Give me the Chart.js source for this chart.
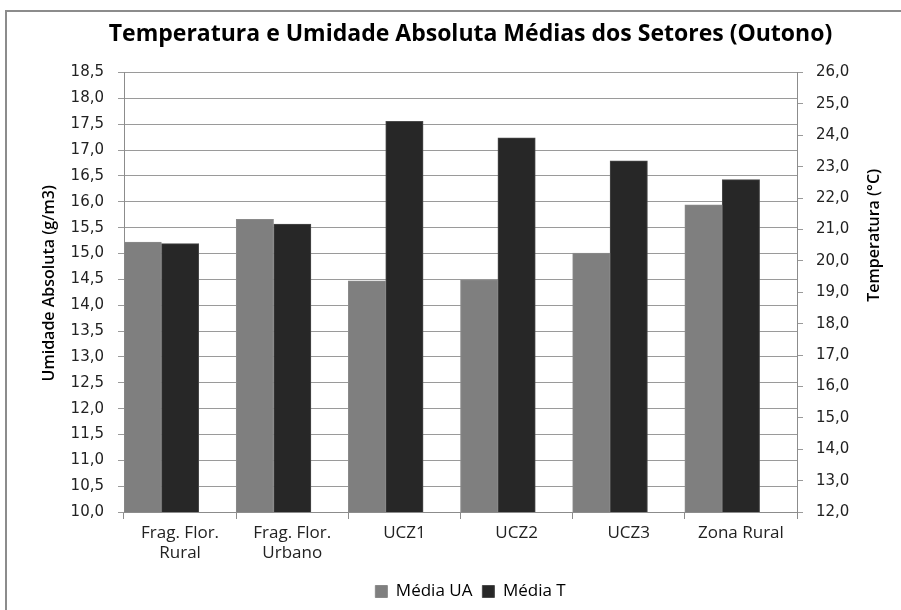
<!DOCTYPE html>
<html>
<head>
<meta charset="utf-8">
<script src="https://cdn.jsdelivr.net/npm/chart.js@4"></script>
<style>
    html, body { margin: 0; padding: 0; background: #fff; }
    #wrap { position: relative; width: 901px; height: 610px; overflow: hidden; }
    #frame { position: absolute; left: 5px; top: 10px; width: 910px; height: 620px;
             border-left: 2px solid #8c8c8c; border-top: 2px solid #8c8c8c; }
    #chart { position: absolute; left: 0; top: 0; }
</style>
</head>
<body>
<div id="wrap">
    <div id="frame"></div>
    <canvas id="chart" width="901" height="610"></canvas>
</div>
<script>
// categorias e valores
const categories = [['Frag. Flor.', 'Rural'], ['Frag. Flor.', 'Urbano'], 'UCZ1', 'UCZ2', 'UCZ3', 'Zona Rural'];
const mediaUA = [15.22, 15.66, 14.47, 14.49, 15.01, 15.94];
const mediaT = [20.55, 21.17, 24.45, 23.92, 23.19, 22.59];
// espaco vazio a direita de cada par (como no Excel)
const spacer = [null, null, null, null, null, null];

const fmt = (v) => Number(v).toFixed(1).replace('.', ',');
const tickFont = { family: 'DejaVu Sans', size: 15 };

// titulos dos eixos, os dois lidos de baixo para cima como no Excel
const axisTitles = {
    id: 'axisTitles',
    afterDraw(chart) {
        const c = chart.ctx;
        const area = chart.chartArea;
        c.save();
        c.fillStyle = '#000';
        c.font = '600 16px "Open Sans"';
        c.textAlign = 'center';
        c.textBaseline = 'middle';
        c.translate(area.left - 75, (area.top + area.bottom) / 2 - 9);
        c.rotate(-Math.PI / 2);
        c.fillText('Umidade Absoluta (g/m3)', 0, 0);
        c.restore();

        c.save();
        c.fillStyle = '#000';
        c.font = '600 16px "Open Sans"';
        c.textAlign = 'center';
        c.textBaseline = 'middle';
        c.translate(area.right + 77, (area.top + area.bottom) / 2 - 57);
        c.rotate(-Math.PI / 2);
        c.fillText('Temperatura (°C)', 0, 0);
        c.restore();
    }
};

const ctx = document.getElementById('chart');
new Chart(ctx, {
    type: 'bar',
    data: {
        labels: categories,
        datasets: [{
            label: 'Média UA',
            data: mediaUA,
            backgroundColor: '#7f7f7f',
            borderColor: '#8a8a8a',
            borderWidth: 1,
            yAxisID: 'y'
        }, {
            label: 'Média T',
            data: mediaT,
            backgroundColor: '#272727',
            borderColor: '#4a4a4a',
            borderWidth: 1,
            yAxisID: 'y1'
        }, {
            label: '',
            data: spacer,
            backgroundColor: 'rgba(0,0,0,0)',
            yAxisID: 'y'
        }]
    },
    options: {
        responsive: false,
        animation: false,
        categoryPercentage: 1,
        barPercentage: 1,
        layout: { padding: { left: 52, right: 12, top: 10, bottom: 0 } },
        plugins: {
            title: {
                display: true,
                text: 'Temperatura e Umidade Absoluta Médias dos Setores (Outono)',
                color: '#000',
                font: { family: 'Open Sans', size: 23, weight: 'bold' },
                padding: { top: 11, bottom: 24 }
            },
            legend: {
                position: 'bottom',
                labels: {
                    filter: (item) => item.datasetIndex < 2,
                    boxWidth: 12,
                    boxHeight: 12,
                    color: '#000',
                    padding: 10,
                    font: { family: 'Open Sans', size: 17 }
                }
            },
            tooltip: { enabled: false }
        },
        scales: {
            x: {
                grid: { offset: true, drawOnChartArea: false, tickLength: 7, color: '#8c8c8c' },
                border: { color: '#8c8c8c' },
                ticks: { color: '#222', font: { family: 'Open Sans', size: 17 }, maxRotation: 0, padding: 4 },
                afterFit: (scale) => { scale.height = 61; }
            },
            y: {
                position: 'left',
                min: 10,
                max: 18.5,
                ticks: { stepSize: 0.5, color: '#222', font: tickFont, padding: 14, callback: fmt },
                grid: { color: '#9a9a9a', tickLength: 6 },
                border: { color: '#8c8c8c' },
                afterFit: (scale) => { scale.width = 72; }
            },
            y1: {
                position: 'right',
                min: 12,
                max: 26,
                ticks: { stepSize: 1, color: '#222', font: tickFont, padding: 13, callback: fmt },
                grid: { drawOnChartArea: false, color: '#9a9a9a', tickLength: 6 },
                border: { color: '#8c8c8c' },
                afterFit: (scale) => { scale.width = 92; }
            }
        }
    },
    plugins: [axisTitles]
});
</script>
</body>
</html>
